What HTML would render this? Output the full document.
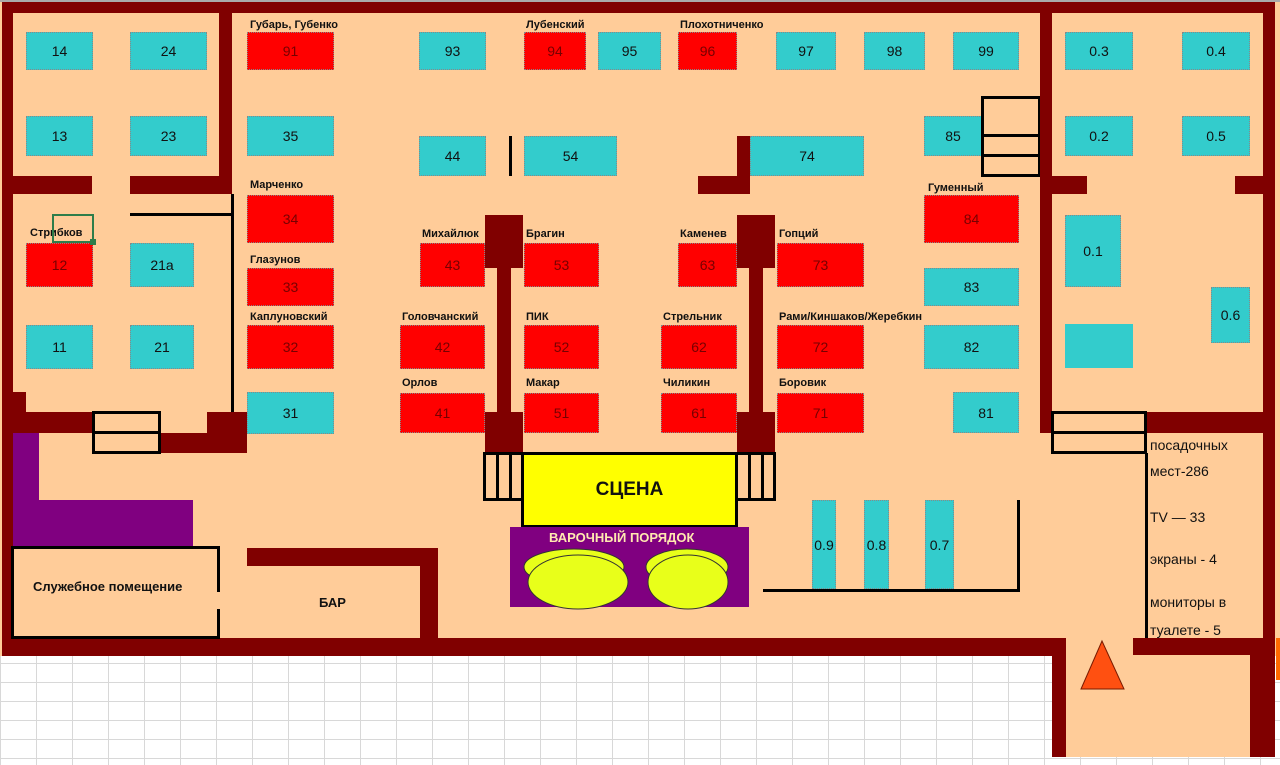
<!DOCTYPE html>
<html><head><meta charset="utf-8"><style>
*{margin:0;padding:0;box-sizing:border-box}
body{width:1280px;height:765px;position:relative;overflow:hidden;background:#fff;font-family:"Liberation Sans",Arial,sans-serif}
.a{position:absolute}
.w{position:absolute;background:#800000}
.t{position:absolute;background:#33CCCC;border:1px dotted #888;display:flex;align-items:center;justify-content:center;font-size:14px;color:#111}
.r{background:#FF0000;color:#700}
.l{position:absolute;font-size:11px;font-weight:bold;color:#111;white-space:nowrap}
.k{position:absolute;border:3px solid #000}
.bl{position:absolute;background:#000}
.n{position:absolute;font-size:14px;color:#111;white-space:nowrap}
</style></head><body>
<div class="a" style="left:0;top:655px;width:1280px;height:110px;background-color:#fff;background-image:linear-gradient(#d8d8d8 1px,transparent 1px),linear-gradient(90deg,#d8d8d8 1px,transparent 1px);background-size:36px 19px;background-position:0 8px"></div>
<div class="a" style="left:0;top:0;width:1280px;height:656px;background:#FFCC99"></div>
<div class="a" style="left:1052px;top:638px;width:212px;height:119px;background:#FFCC99"></div>
<div class="a" style="left:0;top:0;width:1280px;height:2px;background:#aaa"></div>

<div class="w" style="left:2px;top:2px;width:1273px;height:11px"></div>
<div class="w" style="left:2px;top:2px;width:11px;height:654px"></div>
<div class="w" style="left:1263px;top:2px;width:12px;height:640px"></div>
<div class="w" style="left:1250px;top:638px;width:25px;height:119px"></div>
<div class="a" style="left:1276px;top:638px;width:4px;height:42px;background:#FF6A00"></div>
<div class="w" style="left:2px;top:638px;width:1064px;height:18px"></div>
<div class="w" style="left:1052px;top:638px;width:14px;height:119px"></div>
<div class="w" style="left:1133px;top:638px;width:130px;height:17px"></div>

<div class="w" style="left:219px;top:2px;width:13px;height:192px"></div>
<div class="w" style="left:13px;top:176px;width:79px;height:18px"></div>
<div class="w" style="left:130px;top:176px;width:102px;height:18px"></div>
<div class="bl" style="left:130px;top:213px;width:102px;height:3px"></div>
<div class="bl" style="left:231px;top:194px;width:3px;height:218px"></div>
<div class="w" style="left:13px;top:392px;width:13px;height:20px"></div>
<div class="w" style="left:13px;top:412px;width:79px;height:21px"></div>
<div class="w" style="left:160px;top:433px;width:60px;height:20px"></div>
<div class="w" style="left:207px;top:412px;width:40px;height:41px"></div>
<div class="k" style="left:92px;top:411px;width:69px;height:23px"></div>
<div class="k" style="left:92px;top:431px;width:69px;height:23px"></div>

<div class="a" style="left:13px;top:433px;width:26px;height:70px;background:#800080"></div>
<div class="a" style="left:13px;top:500px;width:180px;height:47px;background:#800080"></div>
<div class="k" style="left:11px;top:546px;width:209px;height:93px"></div>
<div class="a" style="left:216px;top:592px;width:5px;height:17px;background:#FFCC99"></div>
<div class="l" style="left:33px;top:579px;font-size:13px">Служебное помещение</div>
<div class="w" style="left:247px;top:548px;width:191px;height:18px"></div>
<div class="w" style="left:420px;top:548px;width:18px;height:92px"></div>
<div class="l" style="left:319px;top:595px;font-size:13px">БАР</div>

<div class="t" style="left:26px;top:32px;width:67px;height:38px">14</div>
<div class="t" style="left:130px;top:32px;width:77px;height:38px">24</div>
<div class="t" style="left:26px;top:116px;width:67px;height:40px">13</div>
<div class="t" style="left:130px;top:116px;width:77px;height:40px">23</div>
<div class="t r" style="left:26px;top:243px;width:67px;height:44px">12</div>
<div class="t" style="left:130px;top:243px;width:64px;height:44px">21a</div>
<div class="t" style="left:26px;top:325px;width:67px;height:44px">11</div>
<div class="t" style="left:130px;top:325px;width:64px;height:44px">21</div>
<div class="l" style="left:30px;top:227px">Стрибков</div>
<div class="a" style="left:52px;top:214px;width:42px;height:29px;border:2px solid #2E7D4A"></div>
<div class="a" style="left:90px;top:239px;width:6px;height:6px;background:#2E7D4A"></div>

<div class="l" style="left:250px;top:19px">Губарь, Губенко</div>
<div class="t r" style="left:247px;top:32px;width:87px;height:38px">91</div>
<div class="t" style="left:247px;top:116px;width:87px;height:40px">35</div>
<div class="l" style="left:250px;top:179px">Марченко</div>
<div class="t r" style="left:247px;top:195px;width:87px;height:48px">34</div>
<div class="l" style="left:250px;top:254px">Глазунов</div>
<div class="t r" style="left:247px;top:268px;width:87px;height:38px">33</div>
<div class="l" style="left:250px;top:311px">Каплуновский</div>
<div class="t r" style="left:247px;top:325px;width:87px;height:44px">32</div>
<div class="t" style="left:247px;top:392px;width:87px;height:42px">31</div>

<div class="t" style="left:419px;top:32px;width:67px;height:38px">93</div>
<div class="l" style="left:526px;top:19px">Лубенский</div>
<div class="t r" style="left:524px;top:32px;width:62px;height:38px">94</div>
<div class="t" style="left:598px;top:32px;width:63px;height:38px">95</div>
<div class="l" style="left:680px;top:19px">Плохотниченко</div>
<div class="t r" style="left:678px;top:32px;width:59px;height:38px">96</div>
<div class="t" style="left:776px;top:32px;width:60px;height:38px">97</div>
<div class="t" style="left:864px;top:32px;width:61px;height:38px">98</div>
<div class="t" style="left:953px;top:32px;width:66px;height:38px">99</div>

<div class="t" style="left:419px;top:136px;width:67px;height:40px">44</div>
<div class="bl" style="left:509px;top:136px;width:3px;height:40px"></div>
<div class="t" style="left:524px;top:136px;width:93px;height:40px">54</div>
<div class="w" style="left:737px;top:136px;width:13px;height:58px"></div>
<div class="w" style="left:698px;top:176px;width:52px;height:18px"></div>
<div class="t" style="left:750px;top:136px;width:114px;height:40px">74</div>
<div class="t" style="left:924px;top:116px;width:58px;height:40px">85</div>
<div class="k" style="left:981px;top:96px;width:60px;height:41px"></div>
<div class="k" style="left:981px;top:134px;width:60px;height:23px"></div>
<div class="k" style="left:981px;top:154px;width:60px;height:23px"></div>

<div class="w" style="left:485px;top:215px;width:38px;height:53px"></div>
<div class="w" style="left:497px;top:268px;width:14px;height:144px"></div>
<div class="w" style="left:485px;top:412px;width:38px;height:41px"></div>
<div class="w" style="left:737px;top:215px;width:38px;height:53px"></div>
<div class="w" style="left:749px;top:268px;width:14px;height:144px"></div>
<div class="w" style="left:737px;top:412px;width:38px;height:41px"></div>

<div class="l" style="left:422px;top:228px">Михайлюк</div>
<div class="t r" style="left:420px;top:243px;width:65px;height:44px">43</div>
<div class="l" style="left:526px;top:228px">Брагин</div>
<div class="t r" style="left:524px;top:243px;width:75px;height:44px">53</div>
<div class="l" style="left:402px;top:311px">Головчанский</div>
<div class="t r" style="left:400px;top:325px;width:85px;height:44px">42</div>
<div class="l" style="left:526px;top:311px">ПИК</div>
<div class="t r" style="left:524px;top:325px;width:75px;height:44px">52</div>
<div class="l" style="left:402px;top:377px">Орлов</div>
<div class="t r" style="left:400px;top:393px;width:85px;height:40px">41</div>
<div class="l" style="left:526px;top:377px">Макар</div>
<div class="t r" style="left:524px;top:393px;width:75px;height:40px">51</div>

<div class="l" style="left:680px;top:228px">Каменев</div>
<div class="t r" style="left:678px;top:243px;width:59px;height:44px">63</div>
<div class="l" style="left:663px;top:311px">Стрельник</div>
<div class="t r" style="left:661px;top:325px;width:76px;height:44px">62</div>
<div class="l" style="left:663px;top:377px">Чиликин</div>
<div class="t r" style="left:661px;top:393px;width:76px;height:40px">61</div>

<div class="l" style="left:779px;top:228px">Гопций</div>
<div class="t r" style="left:777px;top:243px;width:87px;height:44px">73</div>
<div class="l" style="left:779px;top:311px">Рами/Киншаков/Жеребкин</div>
<div class="t r" style="left:777px;top:325px;width:87px;height:44px">72</div>
<div class="l" style="left:779px;top:377px">Боровик</div>
<div class="t r" style="left:777px;top:393px;width:87px;height:40px">71</div>

<div class="l" style="left:928px;top:182px">Гуменный</div>
<div class="t r" style="left:924px;top:195px;width:95px;height:48px">84</div>
<div class="t" style="left:924px;top:268px;width:95px;height:38px">83</div>
<div class="t" style="left:924px;top:325px;width:95px;height:44px">82</div>
<div class="t" style="left:953px;top:392px;width:66px;height:41px">81</div>

<div class="w" style="left:1040px;top:2px;width:12px;height:431px"></div>
<div class="w" style="left:1052px;top:176px;width:35px;height:18px"></div>
<div class="w" style="left:1235px;top:176px;width:29px;height:18px"></div>
<div class="t" style="left:1065px;top:32px;width:68px;height:38px">0.3</div>
<div class="t" style="left:1182px;top:32px;width:68px;height:38px">0.4</div>
<div class="t" style="left:1065px;top:116px;width:68px;height:40px">0.2</div>
<div class="t" style="left:1182px;top:116px;width:68px;height:40px">0.5</div>
<div class="t" style="left:1065px;top:215px;width:56px;height:72px">0.1</div>
<div class="t" style="left:1211px;top:287px;width:39px;height:56px">0.6</div>
<div class="t" style="left:1065px;top:324px;width:68px;height:44px;border:none"></div>
<div class="w" style="left:1146px;top:412px;width:118px;height:21px"></div>
<div class="k" style="left:1051px;top:411px;width:96px;height:23px"></div>
<div class="k" style="left:1051px;top:431px;width:96px;height:23px"></div>
<div class="bl" style="left:1145px;top:453px;width:3px;height:185px"></div>
<div class="n" style="left:1150px;top:437px">посадочных</div>
<div class="n" style="left:1150px;top:463px">мест-286</div>
<div class="n" style="left:1150px;top:509px">TV — 33</div>
<div class="n" style="left:1150px;top:551px">экраны - 4</div>
<div class="n" style="left:1150px;top:594px">мониторы в</div>
<div class="n" style="left:1150px;top:622px">туалете - 5</div>
<svg class="a" style="left:0;top:0" width="1280" height="765"><polygon points="1102,641 1081,689 1124,689" fill="#FF5011" stroke="#7a1a00" stroke-width="1"/></svg>

<div class="k" style="left:483px;top:452px;width:41px;height:49px"></div>
<div class="bl" style="left:496px;top:453px;width:3px;height:47px"></div>
<div class="bl" style="left:509px;top:453px;width:3px;height:47px"></div>
<div class="k" style="left:735px;top:452px;width:41px;height:49px"></div>
<div class="bl" style="left:748px;top:453px;width:3px;height:47px"></div>
<div class="bl" style="left:761px;top:453px;width:3px;height:47px"></div>
<div class="k" style="left:521px;top:452px;width:217px;height:76px;background:#FFFF00;display:flex;align-items:center;justify-content:center;font-weight:bold;font-size:19px;color:#111">СЦЕНА</div>
<div class="a" style="left:510px;top:527px;width:239px;height:80px;background:#800080"></div>
<svg class="a" style="left:0;top:0" width="1280" height="765">
<ellipse cx="574" cy="567" rx="50" ry="18" fill="#E8FF1A" stroke="#333"/>
<ellipse cx="578" cy="582" rx="50" ry="27" fill="#E8FF1A" stroke="#333"/>
<ellipse cx="687" cy="567" rx="41" ry="18" fill="#E8FF1A" stroke="#333"/>
<ellipse cx="688" cy="582" rx="40" ry="27" fill="#E8FF1A" stroke="#333"/>
</svg>
<div class="l" style="left:549px;top:530px;font-size:13px;color:#FFE8B0">ВАРОЧНЫЙ ПОРЯДОК</div>

<div class="t" style="left:812px;top:500px;width:24px;height:89px">0.9</div>
<div class="t" style="left:864px;top:500px;width:25px;height:89px">0.8</div>
<div class="t" style="left:925px;top:500px;width:29px;height:89px">0.7</div>
<div class="bl" style="left:763px;top:589px;width:257px;height:3px"></div>
<div class="bl" style="left:1017px;top:500px;width:3px;height:92px"></div>
</body></html>
